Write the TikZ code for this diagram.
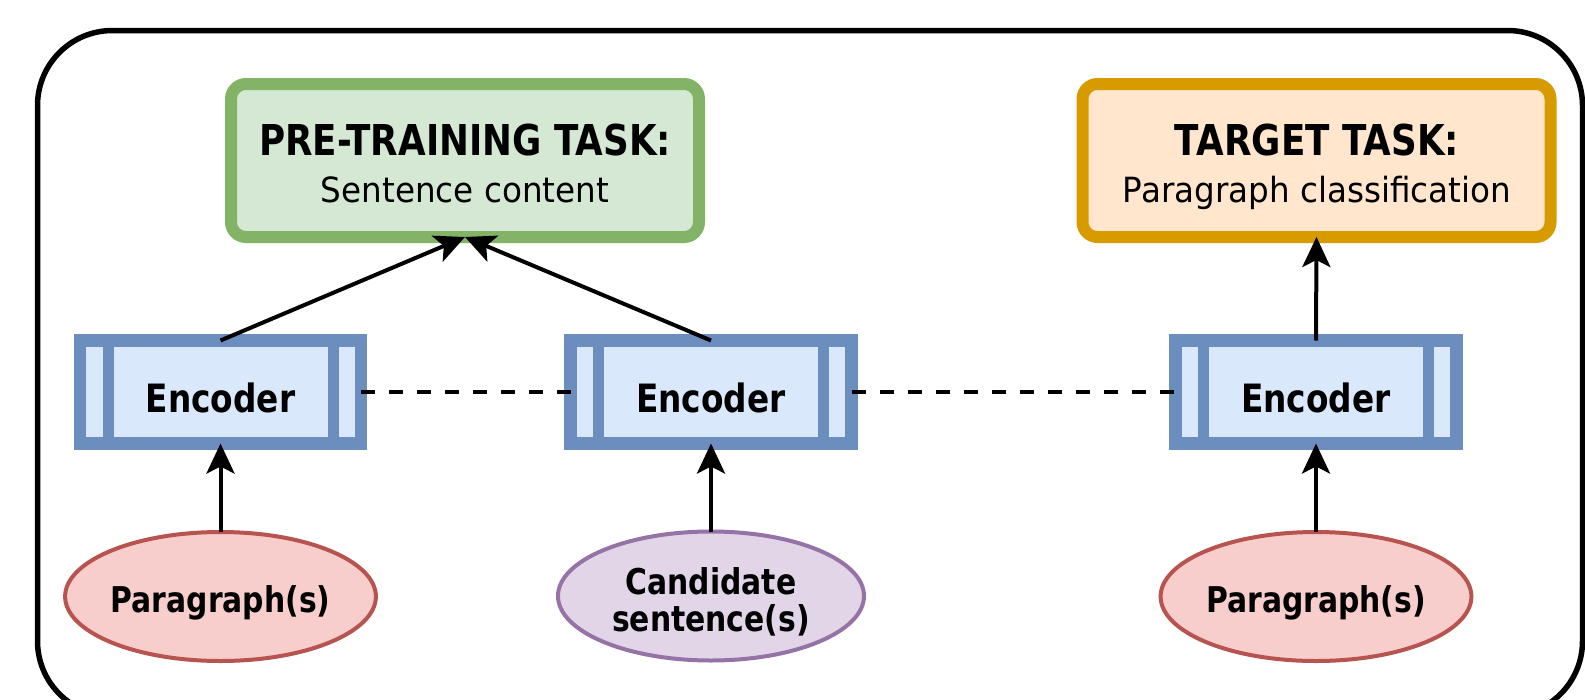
\documentclass[tikz,border=0pt]{standalone}
\usepackage{fontspec}
\usetikzlibrary{arrows.meta,shapes.geometric}

% Label faces: a sans family, squeezed a little horizontally
\newfontfamily\labelbold{DejaVu Sans}[FakeStretch=0.84]
\newfontfamily\labelplain{DejaVu Sans}[FakeStretch=0.94]

\definecolor{ptFill}{HTML}{D5E8D4}
\definecolor{ptLine}{HTML}{82B366}
\definecolor{tgFill}{HTML}{FFE6CC}
\definecolor{tgLine}{HTML}{D79B00}
\definecolor{encFill}{HTML}{DAE8FC}
\definecolor{encLine}{HTML}{6C8EBF}
\definecolor{parFill}{HTML}{F8CECC}
\definecolor{parLine}{HTML}{B85450}
\definecolor{candFill}{HTML}{E1D5E7}
\definecolor{candLine}{HTML}{9673A6}

\begin{document}
\begin{tikzpicture}[x=1pt,y=-1pt,
  framebox/.style={draw=black, line width=5.5pt, rounded corners=75pt,
    minimum width=1545pt, minimum height=685.5pt, inner sep=0pt, outer sep=0pt},
  taskbox/.style={rounded corners=15pt, line width=12pt,
    minimum width=468pt, minimum height=153pt, inner sep=0pt, outer sep=0pt},
  ptbox/.style={taskbox, draw=ptLine, fill=ptFill},
  tgbox/.style={taskbox, draw=tgLine, fill=tgFill},
  headtxt/.style={font=\labelbold\bfseries\fontsize{42.5}{48}\selectfont, inner sep=0pt},
  bodytxt/.style={font=\labelplain\fontsize{34.7}{40}\selectfont, inner sep=0pt},
  encbox/.style={draw=encLine, fill=encFill, line width=12.5pt,
    minimum width=281pt, minimum height=103pt, inner sep=0pt, outer sep=0pt,
    font=\labelbold\bfseries\fontsize{39}{44}\selectfont,
    text height=41pt, text depth=0pt,
    path picture={
      \draw[encLine, line width=11pt]
        ([xshift=28pt]path picture bounding box.north west) --
        ([xshift=28pt]path picture bounding box.south west)
        ([xshift=-28pt]path picture bounding box.north east) --
        ([xshift=-28pt]path picture bounding box.south east);
    }},
  termell/.style={ellipse, line width=4pt, minimum width=306pt, minimum height=129pt,
    inner sep=0pt, outer sep=0pt, align=center,
    font=\labelbold\bfseries\fontsize{35.5}{37}\selectfont},
  parell/.style={termell, draw=parLine, fill=parFill, text height=31pt, text depth=0pt},
  candell/.style={termell, draw=candLine, fill=candFill, text height=70pt, text depth=0pt},
  flow/.style={draw=black, line width=4pt, -{Stealth[length=30pt, width=28pt, inset=7pt]}},
  tie/.style={draw=black, line width=4pt, dash pattern=on 14pt off 14pt}
]
\useasboundingbox (0,0) rectangle (1585,699);
\fill[white] (0,0) rectangle (1585,699);
\clip (0,0) rectangle (1585,699);

% outer frame (its lower edge runs past the page)
\node[framebox] (frame) at (810,373.25) {};

% task boxes
\node[ptbox] (pt) at (465,160.5) {};
\node[headtxt, anchor=base] (ptHead) at (465,155) {PRE-TRAINING TASK:};
\node[bodytxt, anchor=base] (ptBody) at (465,202) {Sentence content};

\node[tgbox] (tg) at (1316.5,160.5) {};
\node[headtxt, anchor=base] (tgHead) at (1317,155) {TARGET TASK:};
\node[bodytxt, anchor=base] (tgBody) at (1317,202) {Paragraph classification};

% encoders
\node[encbox] (e1) at (220.5,392) {Encoder};
\node[encbox] (e2) at (711,392) {Encoder};
\node[encbox] (e3) at (1316,392) {Encoder};

% inputs
\node[parell] (p1) at (220.5,596.5) {Paragraph(s)};
\node[candell] (c2) at (711,596) {Candidate\\sentence(s)};
\node[parell] (p3) at (1316,596.5) {Paragraph(s)};

% shared-weight links
\draw[tie] (e1.east) -- (e2.west);
\draw[tie] (e2.east) -- (e3.west);

% data flow
\draw[flow] (p1.north) -- (e1.south);
\draw[flow] (c2.north) -- (e2.south);
\draw[flow] (p3.north) -- (e3.south);
\draw[flow] (e1.north) -- (pt.south);
\draw[flow] (e2.north) -- (pt.south);
\draw[flow] (e3.north) -- (tg.south);
\end{tikzpicture}
\end{document}
